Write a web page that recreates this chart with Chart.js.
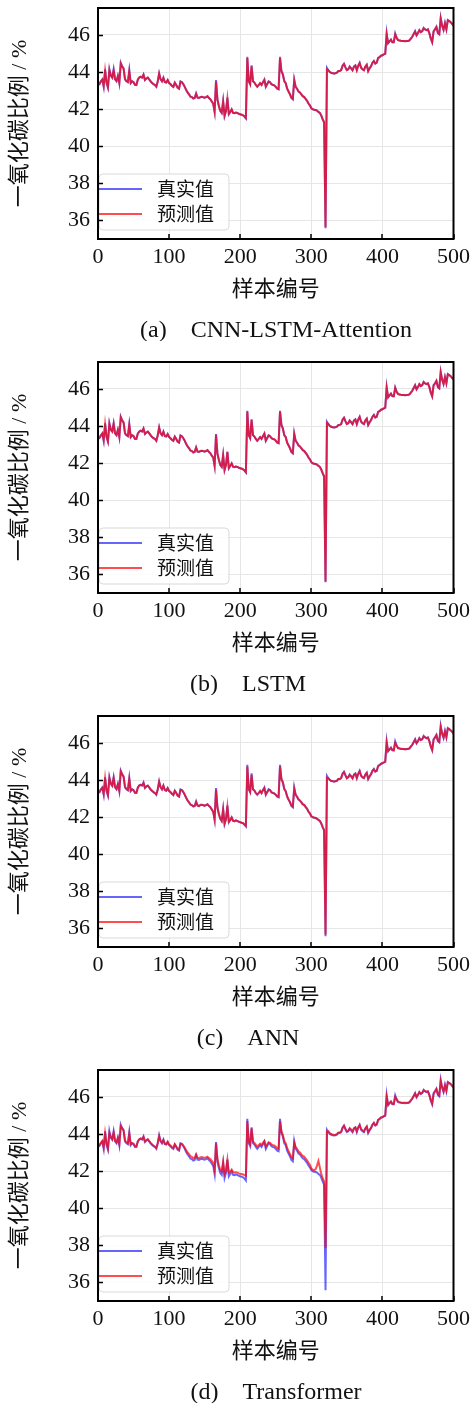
<!DOCTYPE html>
<html>
<head>
<meta charset="utf-8">
<script src="https://cdn.jsdelivr.net/npm/chart.js@4.4.0/dist/chart.umd.min.js"></script>
<style>
  body { margin: 0; background: #fff; width: 475px; height: 1403px; overflow: hidden; }
  .panel { position: absolute; left: 0; width: 475px; height: 341px; }
</style>
</head>
<body>
<div class="panel" style="top:0"><canvas id="c0" width="475" height="341"></canvas></div>
<div class="panel" style="top:354px"><canvas id="c1" width="475" height="341"></canvas></div>
<div class="panel" style="top:708px"><canvas id="c2" width="475" height="341"></canvas></div>
<div class="panel" style="top:1062px"><canvas id="c3" width="475" height="341"></canvas></div>
<script>
// sample numbers go 0..500, one value read every 2 samples
const sampleStep = 2;
const xTicks = [0, 100, 200, 300, 400, 500];
const yTicks = [36, 38, 40, 42, 44, 46];
const seriesNames = ['真实值', '预测值'];
const captions = ['(a)    CNN-LSTM-Attention', '(b)    LSTM', '(c)    ANN', '(d)    Transformer'];
const xTitle = '样本编号';
const yTitle = '一氧化碳比例 / %';

// real values (same test set in every panel)
const truth = [
  43.30, 43.35, 43.50, 43.60, 43.20, 44.15, 43.40, 43.15, 44.15, 43.80,
  43.70, 44.15, 43.60, 43.50, 43.80, 43.40, 44.50, 44.30, 44.20, 43.60,
  43.50, 43.45, 44.10, 43.40, 43.50, 43.45, 43.30, 43.30, 43.60, 43.70,
  43.75, 43.70, 43.87, 43.57, 43.65, 43.70, 43.60, 43.50, 43.40, 43.34,
  43.30, 43.20, 43.50, 43.93, 43.60, 43.50, 43.70, 43.45, 43.43, 43.57,
  43.40, 43.34, 43.25, 43.20, 43.43, 43.30, 43.15, 43.10, 43.50, 43.45,
  43.34, 43.20, 43.03, 42.90, 42.80, 42.67, 42.65, 42.57, 42.60, 42.85,
  42.62, 42.60, 42.65, 42.67, 42.64, 42.62, 42.65, 42.70, 42.60, 42.53,
  42.40, 42.30, 41.85, 43.57, 42.50, 42.17, 41.90, 41.80, 42.44, 41.63,
  41.90, 42.62, 41.72, 41.85, 41.99, 41.80, 41.78, 41.82, 41.80, 41.75,
  41.72, 41.70, 41.67, 41.60, 41.50, 44.82, 43.50, 43.34, 44.36, 43.50,
  43.43, 43.30, 43.20, 43.30, 43.40, 43.30, 43.45, 43.60, 43.20, 43.35,
  43.50, 43.45, 43.34, 43.30, 43.28, 43.20, 43.10, 43.07, 44.82, 44.05,
  43.87, 43.50, 43.40, 43.10, 42.95, 42.80, 42.60, 42.53, 43.60, 43.20,
  43.10, 42.95, 42.90, 42.80, 42.70, 42.65, 42.55, 42.45, 42.30, 42.20,
  42.05, 41.99, 41.97, 41.95, 41.92, 41.85, 41.80, 41.65, 41.45, 41.28,
  35.58, 44.23, 44.10, 44.00, 43.96, 43.93, 43.92, 43.93, 43.97, 44.05,
  44.05, 44.10, 44.35, 44.45, 44.25, 44.10, 44.15, 44.30, 44.20, 44.10,
  44.30, 44.36, 44.10, 44.35, 44.50, 44.23, 44.15, 44.10, 44.30, 44.40,
  44.05, 44.20, 44.32, 44.50, 44.60, 44.45, 44.50, 44.77, 44.80, 44.88,
  44.90, 44.95, 44.98, 46.10, 45.54, 45.65, 45.75, 45.60, 45.60, 46.08,
  45.85, 45.72, 45.70, 45.68, 45.67, 45.67, 45.66, 45.67, 45.67, 45.70,
  45.80, 45.90, 46.05, 46.20, 45.97, 46.10, 46.26, 46.15, 46.20, 46.38,
  46.30, 46.26, 46.30, 46.10, 45.80, 45.60, 46.20, 46.30, 46.44, 46.10,
  46.03, 46.92, 46.50, 46.26, 46.65, 46.30, 46.80, 46.75, 46.69, 46.60,
  46.50
];

// CNN-LSTM-Attention prediction
const predA = [
  43.32, 43.33, 43.48, 43.58, 43.25, 44.08, 43.45, 43.18, 44.10, 43.82,
  43.70, 44.10, 43.62, 43.52, 43.78, 43.42, 44.45, 44.30, 44.18, 43.62,
  43.50, 43.47, 44.05, 43.42, 43.50, 43.45, 43.32, 43.30, 43.58, 43.70,
  43.74, 43.70, 43.85, 43.58, 43.65, 43.70, 43.60, 43.50, 43.42, 43.35,
  43.30, 43.22, 43.48, 43.90, 43.62, 43.50, 43.68, 43.46, 43.43, 43.56,
  43.40, 43.35, 43.26, 43.20, 43.42, 43.30, 43.16, 43.10, 43.47, 43.45,
  43.35, 43.20, 43.04, 42.90, 42.80, 42.68, 42.65, 42.58, 42.60, 42.82,
  42.63, 42.60, 42.65, 42.67, 42.64, 42.62, 42.65, 42.69, 42.60, 42.54,
  42.42, 42.30, 41.88, 43.50, 42.52, 42.17, 41.92, 41.80, 42.42, 41.65,
  41.90, 42.58, 41.75, 41.85, 41.98, 41.80, 41.78, 41.82, 41.80, 41.75,
  41.72, 41.70, 41.67, 41.60, 41.52, 44.75, 43.52, 43.35, 44.30, 43.50,
  43.43, 43.30, 43.22, 43.30, 43.40, 43.30, 43.45, 43.57, 43.22, 43.35,
  43.48, 43.45, 43.34, 43.30, 43.28, 43.20, 43.12, 43.08, 44.75, 44.05,
  43.87, 43.52, 43.40, 43.12, 42.95, 42.80, 42.62, 42.55, 43.55, 43.20,
  43.10, 42.95, 42.90, 42.80, 42.70, 42.65, 42.55, 42.45, 42.30, 42.20,
  42.05, 42.00, 41.97, 41.95, 41.92, 41.85, 41.80, 41.66, 41.46, 41.30,
  35.65, 44.15, 44.10, 44.00, 43.96, 43.93, 43.92, 43.93, 43.97, 44.05,
  44.05, 44.10, 44.32, 44.43, 44.25, 44.10, 44.15, 44.28, 44.20, 44.10,
  44.28, 44.35, 44.10, 44.33, 44.48, 44.23, 44.15, 44.10, 44.28, 44.38,
  44.05, 44.20, 44.30, 44.50, 44.58, 44.45, 44.50, 44.75, 44.80, 44.88,
  44.90, 44.95, 44.98, 46.02, 45.56, 45.65, 45.74, 45.60, 45.60, 46.02,
  45.85, 45.72, 45.70, 45.68, 45.67, 45.67, 45.66, 45.67, 45.67, 45.70,
  45.80, 45.90, 46.05, 46.18, 45.98, 46.10, 46.25, 46.15, 46.20, 46.35,
  46.30, 46.26, 46.30, 46.10, 45.82, 45.62, 46.18, 46.30, 46.42, 46.10,
  46.05, 46.88, 46.50, 46.28, 46.62, 46.30, 46.78, 46.75, 46.68, 46.60,
  46.50
];

// LSTM prediction
const predB = [
  43.31, 43.36, 43.47, 43.59, 43.24, 44.10, 43.43, 43.17, 44.12, 43.80,
  43.71, 44.12, 43.61, 43.51, 43.79, 43.41, 44.47, 44.29, 44.19, 43.61,
  43.51, 43.46, 44.07, 43.41, 43.51, 43.46, 43.31, 43.31, 43.59, 43.69,
  43.75, 43.71, 43.86, 43.58, 43.64, 43.70, 43.61, 43.51, 43.41, 43.35,
  43.31, 43.21, 43.49, 43.91, 43.61, 43.51, 43.69, 43.46, 43.44, 43.56,
  43.41, 43.34, 43.26, 43.21, 43.42, 43.31, 43.16, 43.11, 43.48, 43.45,
  43.34, 43.21, 43.04, 42.91, 42.81, 42.68, 42.66, 42.58, 42.61, 42.84,
  42.62, 42.61, 42.65, 42.67, 42.65, 42.63, 42.65, 42.70, 42.61, 42.54,
  42.41, 42.31, 41.87, 43.53, 42.51, 42.18, 41.91, 41.81, 42.43, 41.64,
  41.91, 42.60, 41.74, 41.86, 41.98, 41.81, 41.79, 41.82, 41.80, 41.76,
  41.72, 41.71, 41.67, 41.61, 41.51, 44.78, 43.51, 43.35, 44.33, 43.51,
  43.43, 43.31, 43.21, 43.31, 43.40, 43.31, 43.45, 43.58, 43.21, 43.35,
  43.49, 43.45, 43.35, 43.30, 43.29, 43.21, 43.11, 43.08, 44.78, 44.06,
  43.87, 43.51, 43.41, 43.11, 42.96, 42.81, 42.61, 42.54, 43.57, 43.21,
  43.10, 42.96, 42.90, 42.81, 42.71, 42.65, 42.56, 42.46, 42.31, 42.21,
  42.06, 41.99, 41.97, 41.95, 41.92, 41.86, 41.80, 41.66, 41.46, 41.29,
  35.62, 44.18, 44.11, 44.01, 43.96, 43.93, 43.92, 43.94, 43.97, 44.05,
  44.06, 44.10, 44.33, 44.44, 44.26, 44.11, 44.15, 44.29, 44.21, 44.11,
  44.29, 44.35, 44.11, 44.34, 44.49, 44.24, 44.16, 44.11, 44.29, 44.39,
  44.06, 44.20, 44.31, 44.49, 44.59, 44.46, 44.50, 44.76, 44.80, 44.88,
  44.90, 44.95, 44.98, 46.05, 45.55, 45.65, 45.74, 45.61, 45.60, 46.05,
  45.85, 45.73, 45.70, 45.68, 45.67, 45.67, 45.66, 45.67, 45.68, 45.70,
  45.80, 45.90, 46.05, 46.19, 45.98, 46.10, 46.25, 46.16, 46.20, 46.36,
  46.30, 46.27, 46.30, 46.11, 45.81, 45.61, 46.19, 46.30, 46.43, 46.11,
  46.04, 46.90, 46.50, 46.27, 46.63, 46.31, 46.79, 46.75, 46.69, 46.60,
  46.50
];

// ANN prediction
const predC = [
  43.33, 43.34, 43.49, 43.57, 43.26, 44.09, 43.44, 43.19, 44.11, 43.81,
  43.69, 44.11, 43.63, 43.52, 43.77, 43.43, 44.46, 44.31, 44.17, 43.63,
  43.52, 43.46, 44.06, 43.43, 43.49, 43.46, 43.33, 43.31, 43.57, 43.71,
  43.73, 43.71, 43.84, 43.59, 43.66, 43.69, 43.61, 43.49, 43.43, 43.36,
  43.29, 43.23, 43.47, 43.89, 43.63, 43.49, 43.69, 43.47, 43.42, 43.55,
  43.41, 43.36, 43.27, 43.19, 43.41, 43.31, 43.17, 43.11, 43.46, 43.46,
  43.36, 43.21, 43.05, 42.91, 42.79, 42.69, 42.64, 42.59, 42.61, 42.81,
  42.64, 42.59, 42.66, 42.66, 42.65, 42.61, 42.66, 42.68, 42.61, 42.55,
  42.43, 42.29, 41.89, 43.48, 42.53, 42.16, 41.93, 41.79, 42.41, 41.66,
  41.89, 42.57, 41.76, 41.84, 41.97, 41.81, 41.77, 41.83, 41.79, 41.76,
  41.73, 41.69, 41.68, 41.59, 41.53, 44.73, 43.53, 43.36, 44.28, 43.49,
  43.44, 43.29, 43.23, 43.29, 43.41, 43.29, 43.46, 43.56, 43.23, 43.34,
  43.47, 43.46, 43.33, 43.31, 43.27, 43.21, 43.13, 43.09, 44.73, 44.04,
  43.88, 43.53, 43.39, 43.13, 42.94, 42.81, 42.63, 42.56, 43.53, 43.21,
  43.09, 42.96, 42.89, 42.81, 42.69, 42.66, 42.54, 42.46, 42.29, 42.21,
  42.04, 42.01, 41.96, 41.96, 41.91, 41.86, 41.79, 41.67, 41.47, 41.31,
  35.68, 44.13, 44.09, 44.01, 43.95, 43.94, 43.91, 43.94, 43.96, 44.06,
  44.04, 44.11, 44.31, 44.42, 44.26, 44.09, 44.16, 44.27, 44.21, 44.09,
  44.27, 44.34, 44.11, 44.32, 44.47, 44.24, 44.14, 44.11, 44.27, 44.37,
  44.06, 44.19, 44.29, 44.49, 44.57, 44.46, 44.49, 44.74, 44.81, 44.87,
  44.91, 44.94, 44.99, 46.00, 45.57, 45.64, 45.73, 45.61, 45.59, 46.00,
  45.86, 45.71, 45.71, 45.67, 45.68, 45.66, 45.67, 45.66, 45.68, 45.69,
  45.81, 45.89, 46.04, 46.17, 45.99, 46.09, 46.24, 46.16, 46.19, 46.34,
  46.31, 46.25, 46.29, 46.11, 45.83, 45.63, 46.17, 46.29, 46.41, 46.11,
  46.06, 46.86, 46.51, 46.29, 46.61, 46.31, 46.77, 46.74, 46.67, 46.61,
  46.51
];

// Transformer prediction
const predD = [
  43.35, 43.40, 43.52, 43.62, 43.28, 44.05, 43.50, 43.22, 44.05, 43.85,
  43.72, 44.08, 43.65, 43.55, 43.80, 43.45, 44.42, 44.32, 44.20, 43.65,
  43.55, 43.50, 44.02, 43.45, 43.52, 43.48, 43.35, 43.34, 43.60, 43.72,
  43.76, 43.72, 43.85, 43.60, 43.66, 43.72, 43.62, 43.52, 43.45, 43.38,
  43.33, 43.25, 43.50, 43.88, 43.64, 43.52, 43.68, 43.48, 43.46, 43.58,
  43.43, 43.38, 43.30, 43.25, 43.45, 43.34, 43.20, 43.15, 43.48, 43.48,
  43.38, 43.26, 43.12, 43.00, 42.92, 42.80, 42.77, 42.70, 42.72, 42.90,
  42.72, 42.70, 42.74, 42.76, 42.73, 42.72, 42.74, 42.78, 42.70, 42.64,
  42.55, 42.45, 42.05, 43.50, 42.65, 42.32, 42.05, 41.98, 42.50, 41.85,
  42.05, 42.62, 41.92, 41.98, 42.08, 41.95, 41.92, 41.94, 41.92, 41.88,
  41.86, 41.85, 41.82, 41.78, 41.75, 44.70, 43.60, 43.45, 44.30, 43.60,
  43.52, 43.42, 43.32, 43.40, 43.48, 43.40, 43.52, 43.62, 43.32, 43.45,
  43.56, 43.52, 43.44, 43.40, 43.38, 43.32, 43.24, 43.20, 44.70, 44.15,
  43.95, 43.62, 43.50, 43.25, 43.08, 42.92, 42.75, 42.68, 43.55, 43.30,
  43.20, 43.05, 43.00, 42.90, 42.82, 42.78, 42.68, 42.58, 42.45, 42.35,
  42.15, 42.08, 42.05, 42.10, 42.30, 42.55, 42.20, 41.85, 41.60, 41.45,
  37.85, 44.15, 44.15, 44.05, 44.00, 43.97, 43.95, 43.96, 44.00, 44.08,
  44.08, 44.12, 44.32, 44.45, 44.28, 44.15, 44.18, 44.30, 44.24, 44.14,
  44.30, 44.36, 44.15, 44.35, 44.48, 44.27, 44.20, 44.14, 44.30, 44.40,
  44.10, 44.22, 44.33, 44.50, 44.60, 44.48, 44.52, 44.75, 44.82, 44.90,
  44.92, 44.96, 45.00, 46.00, 45.60, 45.68, 45.75, 45.63, 45.62, 46.00,
  45.88, 45.75, 45.72, 45.70, 45.69, 45.69, 45.68, 45.69, 45.69, 45.72,
  45.82, 45.92, 46.05, 46.18, 46.00, 46.12, 46.25, 46.18, 46.22, 46.35,
  46.32, 46.28, 46.30, 46.12, 45.85, 45.65, 46.15, 46.30, 46.42, 46.15,
  46.08, 46.85, 46.52, 46.30, 46.62, 46.35, 46.78, 46.75, 46.70, 46.62,
  46.52
];

const predictions = [predA, predB, predC, predD];
const captionX = [276, 248, 248, 276];

const BLUE = 'rgba(0, 0, 255, 0.6)';
const RED = 'rgba(255, 0, 0, 0.7)';
const SERIF = '"Liberation Serif", "Noto Sans CJK SC", serif';

function toPoints(values) {
  return values.map((v, i) => ({ x: i * sampleStep, y: v }));
}

// black frame around the plot + inward tick marks
const framePlugin = {
  id: 'frame',
  afterDatasetsDraw(chart) {
    const { ctx, chartArea: a, scales } = chart;
    ctx.save();
    ctx.strokeStyle = '#000';
    ctx.lineWidth = 1.5;
    ctx.beginPath();
    scales.y.ticks.forEach(t => {
      const py = Math.round(scales.y.getPixelForValue(t.value)) + 0.5;
      ctx.moveTo(a.left, py);
      ctx.lineTo(a.left + 5, py);
    });
    scales.x.ticks.forEach(t => {
      const px = Math.round(scales.x.getPixelForValue(t.value));
      ctx.moveTo(px, a.bottom);
      ctx.lineTo(px, a.bottom - 5);
    });
    ctx.stroke();
    ctx.lineWidth = 2;
    ctx.strokeRect(a.left, a.top, a.right - a.left, a.bottom - a.top);
    ctx.restore();
  }
};

// legend box sitting in the lower left corner of the plot
const legendPlugin = {
  id: 'cornerLegend',
  afterDatasetsDraw(chart) {
    const { ctx, chartArea: a } = chart;
    const bx = a.left + 1, by = a.bottom - 65, bw = 130, bh = 56;
    ctx.save();
    ctx.fillStyle = 'rgba(255,255,255,0.85)';
    ctx.strokeStyle = '#d9d9d9';
    ctx.lineWidth = 1;
    ctx.beginPath();
    ctx.roundRect(bx, by, bw, bh, 4);
    ctx.fill();
    ctx.stroke();
    const colors = [BLUE, RED];
    ctx.font = '19px ' + SERIF;
    ctx.textBaseline = 'middle';
    seriesNames.forEach((name, i) => {
      const ly = by + 15 + i * 25;
      ctx.strokeStyle = colors[i];
      ctx.lineWidth = 2;
      ctx.beginPath();
      ctx.moveTo(a.left + 1, ly);
      ctx.lineTo(a.left + 44, ly);
      ctx.stroke();
      ctx.fillStyle = '#111';
      ctx.fillText(name, a.left + 59, ly + 2);
    });
    ctx.restore();
  }
};

// caption under each panel
const captionPlugin = {
  id: 'caption',
  afterDraw(chart) {
    const { ctx } = chart;
    const i = chart.options.plugins.caption.index;
    ctx.save();
    ctx.font = '24px ' + SERIF;
    ctx.fillStyle = '#111';
    ctx.textAlign = 'center';
    ctx.textBaseline = 'middle';
    ctx.fillText(captions[i], captionX[i], 331);
    ctx.restore();
  }
};

function makeChart(i) {
  const ctx = document.getElementById('c' + i).getContext('2d');
  return new Chart(ctx, {
    type: 'line',
    data: {
      datasets: [{
        label: seriesNames[0],
        data: toPoints(truth),
        borderColor: BLUE,
        borderWidth: 2,
        pointRadius: 0,
        tension: 0,
        order: 2
      }, {
        label: seriesNames[1],
        data: toPoints(predictions[i]),
        borderColor: RED,
        borderWidth: 2,
        pointRadius: 0,
        tension: 0,
        order: 1
      }]
    },
    options: {
      responsive: false,
      animation: false,
      devicePixelRatio: 1,
      layout: { padding: { top: 8, right: 21, left: 0, bottom: 0 } },
      plugins: {
        legend: { display: false },
        tooltip: { enabled: false },
        caption: { index: i }
      },
      scales: {
        x: {
          type: 'linear',
          min: 0,
          max: 500,
          afterBuildTicks: s => { s.ticks = xTicks.map(v => ({ value: v })); },
          afterFit: s => { s.height = 102; },
          grid: { color: '#e6e6e6', lineWidth: 1, drawTicks: false },
          border: { display: false },
          ticks: { color: '#111', font: { family: SERIF, size: 22 }, padding: 5, maxRotation: 0, autoSkip: false },
          title: { display: true, text: xTitle, color: '#111', font: { family: SERIF, size: 22 }, padding: { top: 4, bottom: 38 } }
        },
        y: {
          min: 35.0,
          max: 47.45,
          afterBuildTicks: s => { s.ticks = yTicks.map(v => ({ value: v })); },
          afterFit: s => { s.width = 98; s.paddingTop = 0; s.paddingBottom = 0; },
          grid: { color: '#e6e6e6', lineWidth: 1, drawTicks: false },
          border: { display: false },
          ticks: { color: '#111', font: { family: SERIF, size: 22 }, padding: 8 },
          title: { display: true, text: yTitle, color: '#111', font: { family: SERIF, size: 22 }, padding: { top: 7, bottom: 0 } }
        }
      }
    },
    plugins: [legendPlugin, framePlugin, captionPlugin]
  });
}

[0, 1, 2, 3].forEach(makeChart);
</script>
</body>
</html>
